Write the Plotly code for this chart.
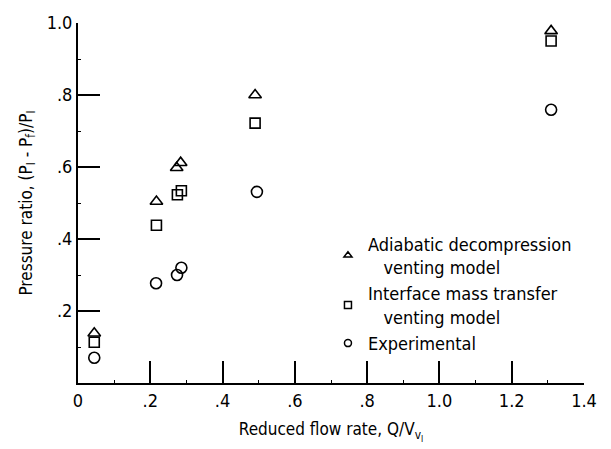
import plotly.graph_objects as go

# Reduced flow rate, Q/V_vI
x_adiabatic = [0.045, 0.217, 0.273, 0.284, 0.49, 1.309]
y_adiabatic = [0.138, 0.504, 0.598, 0.612, 0.80, 0.978]

x_interface = [0.045, 0.217, 0.275, 0.286, 0.49, 1.309]
y_interface = [0.113, 0.438, 0.523, 0.534, 0.722, 0.950]

x_experimental = [0.045, 0.216, 0.274, 0.286, 0.495, 1.309]
y_experimental = [0.070, 0.277, 0.300, 0.320, 0.531, 0.759]

series_names = [
    "Adiabatic decompression<br>   venting model",
    "Interface mass transfer<br>   venting model",
    "Experimental",
]

x_tickvals = [0, 0.2, 0.4, 0.6, 0.8, 1.0, 1.2, 1.4]
x_ticktext = ["0", ".2", ".4", ".6", ".8", "1.0", "1.2", "1.4"]
y_tickvals = [0.2, 0.4, 0.6, 0.8, 1.0]
y_ticktext = [".2", ".4", ".6", ".8", "1.0"]

FONT = "DejaVu Sans Condensed, Liberation Sans Narrow, sans-serif"

fig = go.Figure()
marker_line = dict(color="black", width=1.6)
series = [
    (x_adiabatic, y_adiabatic, "triangle-up-open", 11),
    (x_interface, y_interface, "square-open", 10),
    (x_experimental, y_experimental, "circle-open", 11),
]
for (xs, ys, sym, size), name in zip(series, series_names):
    fig.add_trace(go.Scatter(
        x=xs, y=ys, mode="markers", name=name, showlegend=False,
        marker=dict(symbol=sym, size=size, color="black", line=marker_line),
    ))
# legend entries (smaller symbols, as in the reference key)
for (xs, ys, sym, size), name in zip(series, series_names):
    fig.add_trace(go.Scatter(
        x=[None], y=[None], mode="markers", name=name, showlegend=True,
        marker=dict(symbol=sym, size=7, color="black", line=dict(color="black", width=1.5)),
    ))

axis_common = dict(
    showgrid=False, zeroline=False, showline=True, linecolor="black", linewidth=2,
    ticks="inside", ticklen=22, tickwidth=2, tickcolor="black",
    tickfont=dict(family=FONT, size=18, color="black"),
    minor=dict(ticks="inside", ticklen=3, tickwidth=1, tickcolor="black", dtick=0.1),
)

fig.update_layout(
    width=611, height=449,
    margin=dict(l=78, r=27, t=20, b=66),
    paper_bgcolor="white", plot_bgcolor="white",
    font=dict(family=FONT, size=17, color="black"),
    showlegend=True,
    legend=dict(
        x=0.494, y=0.438, xanchor="left", yanchor="top",
        bgcolor="rgba(0,0,0,0)", borderwidth=0,
        font=dict(family=FONT, size=18, color="black"),
        tracegroupgap=0, itemsizing="trace",
    ),
    xaxis=dict(
        range=[0, 1.4], tickvals=x_tickvals, ticktext=x_ticktext,
        title=dict(text="Reduced flow rate, Q/V<sub>v<sub>I</sub></sub>", standoff=14,
                   font=dict(family=FONT, size=17, color="black")),
        **axis_common,
    ),
    yaxis=dict(
        range=[0, 1.0], tickvals=y_tickvals, ticktext=y_ticktext,
        title=dict(text="Pressure ratio, (P<sub>I</sub> - P<sub>f</sub>)/P<sub>I</sub>", standoff=10,
                   font=dict(family=FONT, size=17, color="black")),
        **axis_common,
    ),
)

fig.write_html("out.html")
